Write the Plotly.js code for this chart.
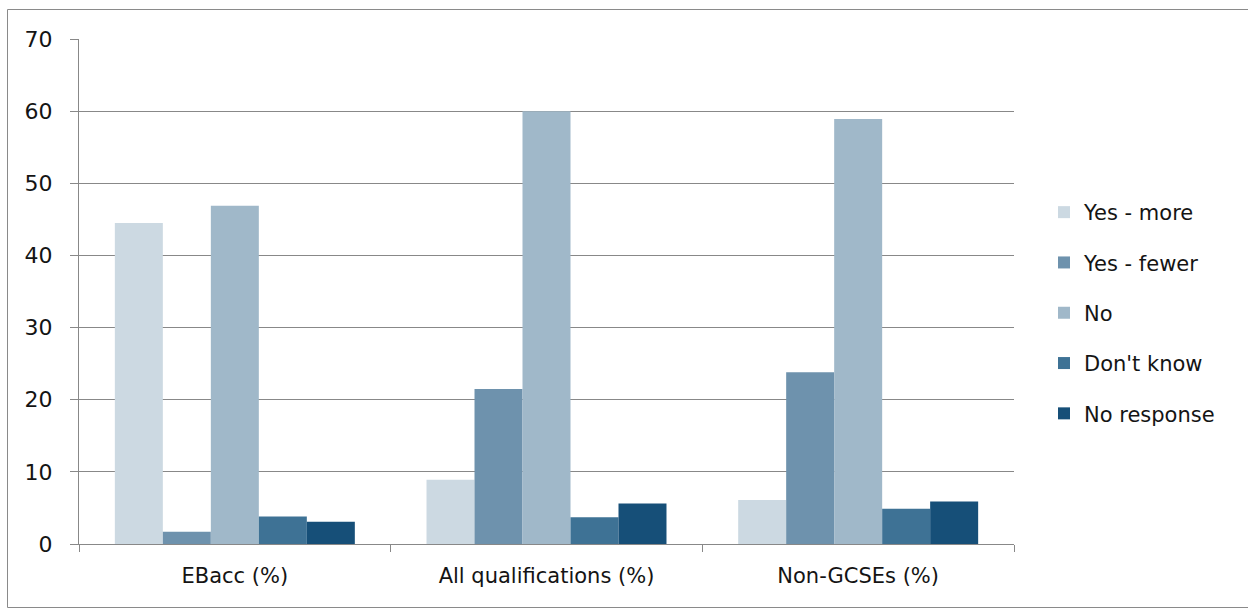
<!DOCTYPE html>
<html>
<head>
<meta charset="utf-8">
<script src="https://cdn.plot.ly/plotly-3.0.1.min.js"></script>
<style>
  html, body { margin: 0; padding: 0; background: #ffffff; }
  #chart { width: 1248px; height: 612px; }
</style>
</head>
<body>
<div id="chart"></div>
<script>
// Survey responses by qualification type (percent)
const categories = ["EBacc (%)", "All qualifications (%)", "Non-GCSEs (%)"];
const seriesNames = ["Yes - more", "Yes - fewer", "No", "Don't know", "No response"];
const yesMore    = [44.5, 8.9, 6.1];
const yesFewer   = [1.7, 21.5, 23.8];
const no         = [46.9, 60.0, 58.9];
const dontKnow   = [3.8, 3.7, 4.9];
const noResponse = [3.1, 5.6, 5.9];
const yTicks = [0, 10, 20, 30, 40, 50, 60, 70];

const seriesValues = [yesMore, yesFewer, no, dontKnow, noResponse];
const seriesColors = ["#ccd9e2", "#6e92ad", "#a0b8c9", "#3e7295", "#164f78"];

const W = 1248, H = 612;
const M = { l: 79, r: 234, t: 39, b: 68 };
const plotW = W - M.l - M.r, plotH = H - M.t - M.b;
// pixel -> paper helpers for legend and outer frame placement
const px = x => (x - M.l) / plotW;
const py = y => (H - M.b - y) / plotH;

const FONT = "'DejaVu Sans', Verdana, sans-serif";
const INK = "#141414";
const GRID = "#888888";

const traces = seriesNames.map((name, i) => ({
  type: "bar",
  name: name,
  x: categories,
  y: seriesValues[i],
  marker: { color: seriesColors[i], line: { width: 0 } },
  legendgroup: "g" + i,
  hoverinfo: "x+y+name"
}));

const layout = {
  width: W,
  height: H,
  margin: M,
  paper_bgcolor: "#ffffff",
  plot_bgcolor: "#ffffff",
  font: { family: FONT, size: 21, color: INK },
  barmode: "group",
  bargap: 0.23,
  bargroupgap: 0,
  showlegend: true,
  legend: {
    x: px(1044),
    xanchor: "left",
    y: py(192),
    yanchor: "top",
    font: { family: FONT, size: 21, color: INK },
    tracegroupgap: 20,
    bgcolor: "rgba(0,0,0,0)",
    itemclick: false
  },
  xaxis: {
    type: "category",
    showgrid: false,
    showline: true,
    linecolor: GRID,
    linewidth: 1,
    ticks: "outside",
    tickson: "boundaries",
    ticklen: 7,
    tickcolor: GRID,
    ticklabelstandoff: 13,
    tickfont: { family: FONT, size: 21, color: INK },
    zeroline: false
  },
  yaxis: {
    range: [0, 70],
    tickvals: yTicks,
    ticktext: yTicks.map(String),
    showgrid: true,
    gridcolor: GRID,
    gridwidth: 1,
    showline: true,
    linecolor: GRID,
    linewidth: 1,
    ticks: "outside",
    ticklen: 8,
    tickcolor: GRID,
    ticklabelstandoff: 13,
    tickfont: { family: FONT, size: 22, color: INK },
    zeroline: false
  },
  shapes: [{
    type: "rect",
    xref: "paper", yref: "paper",
    x0: px(7.5), x1: px(1260),
    y0: py(607.5), y1: py(9.5),
    line: { color: "#8a8a8a", width: 1 },
    fillcolor: "rgba(0,0,0,0)",
    layer: "below"
  }]
};

Plotly.newPlot("chart", traces, layout, { displayModeBar: false, staticPlot: true });
</script>
</body>
</html>
